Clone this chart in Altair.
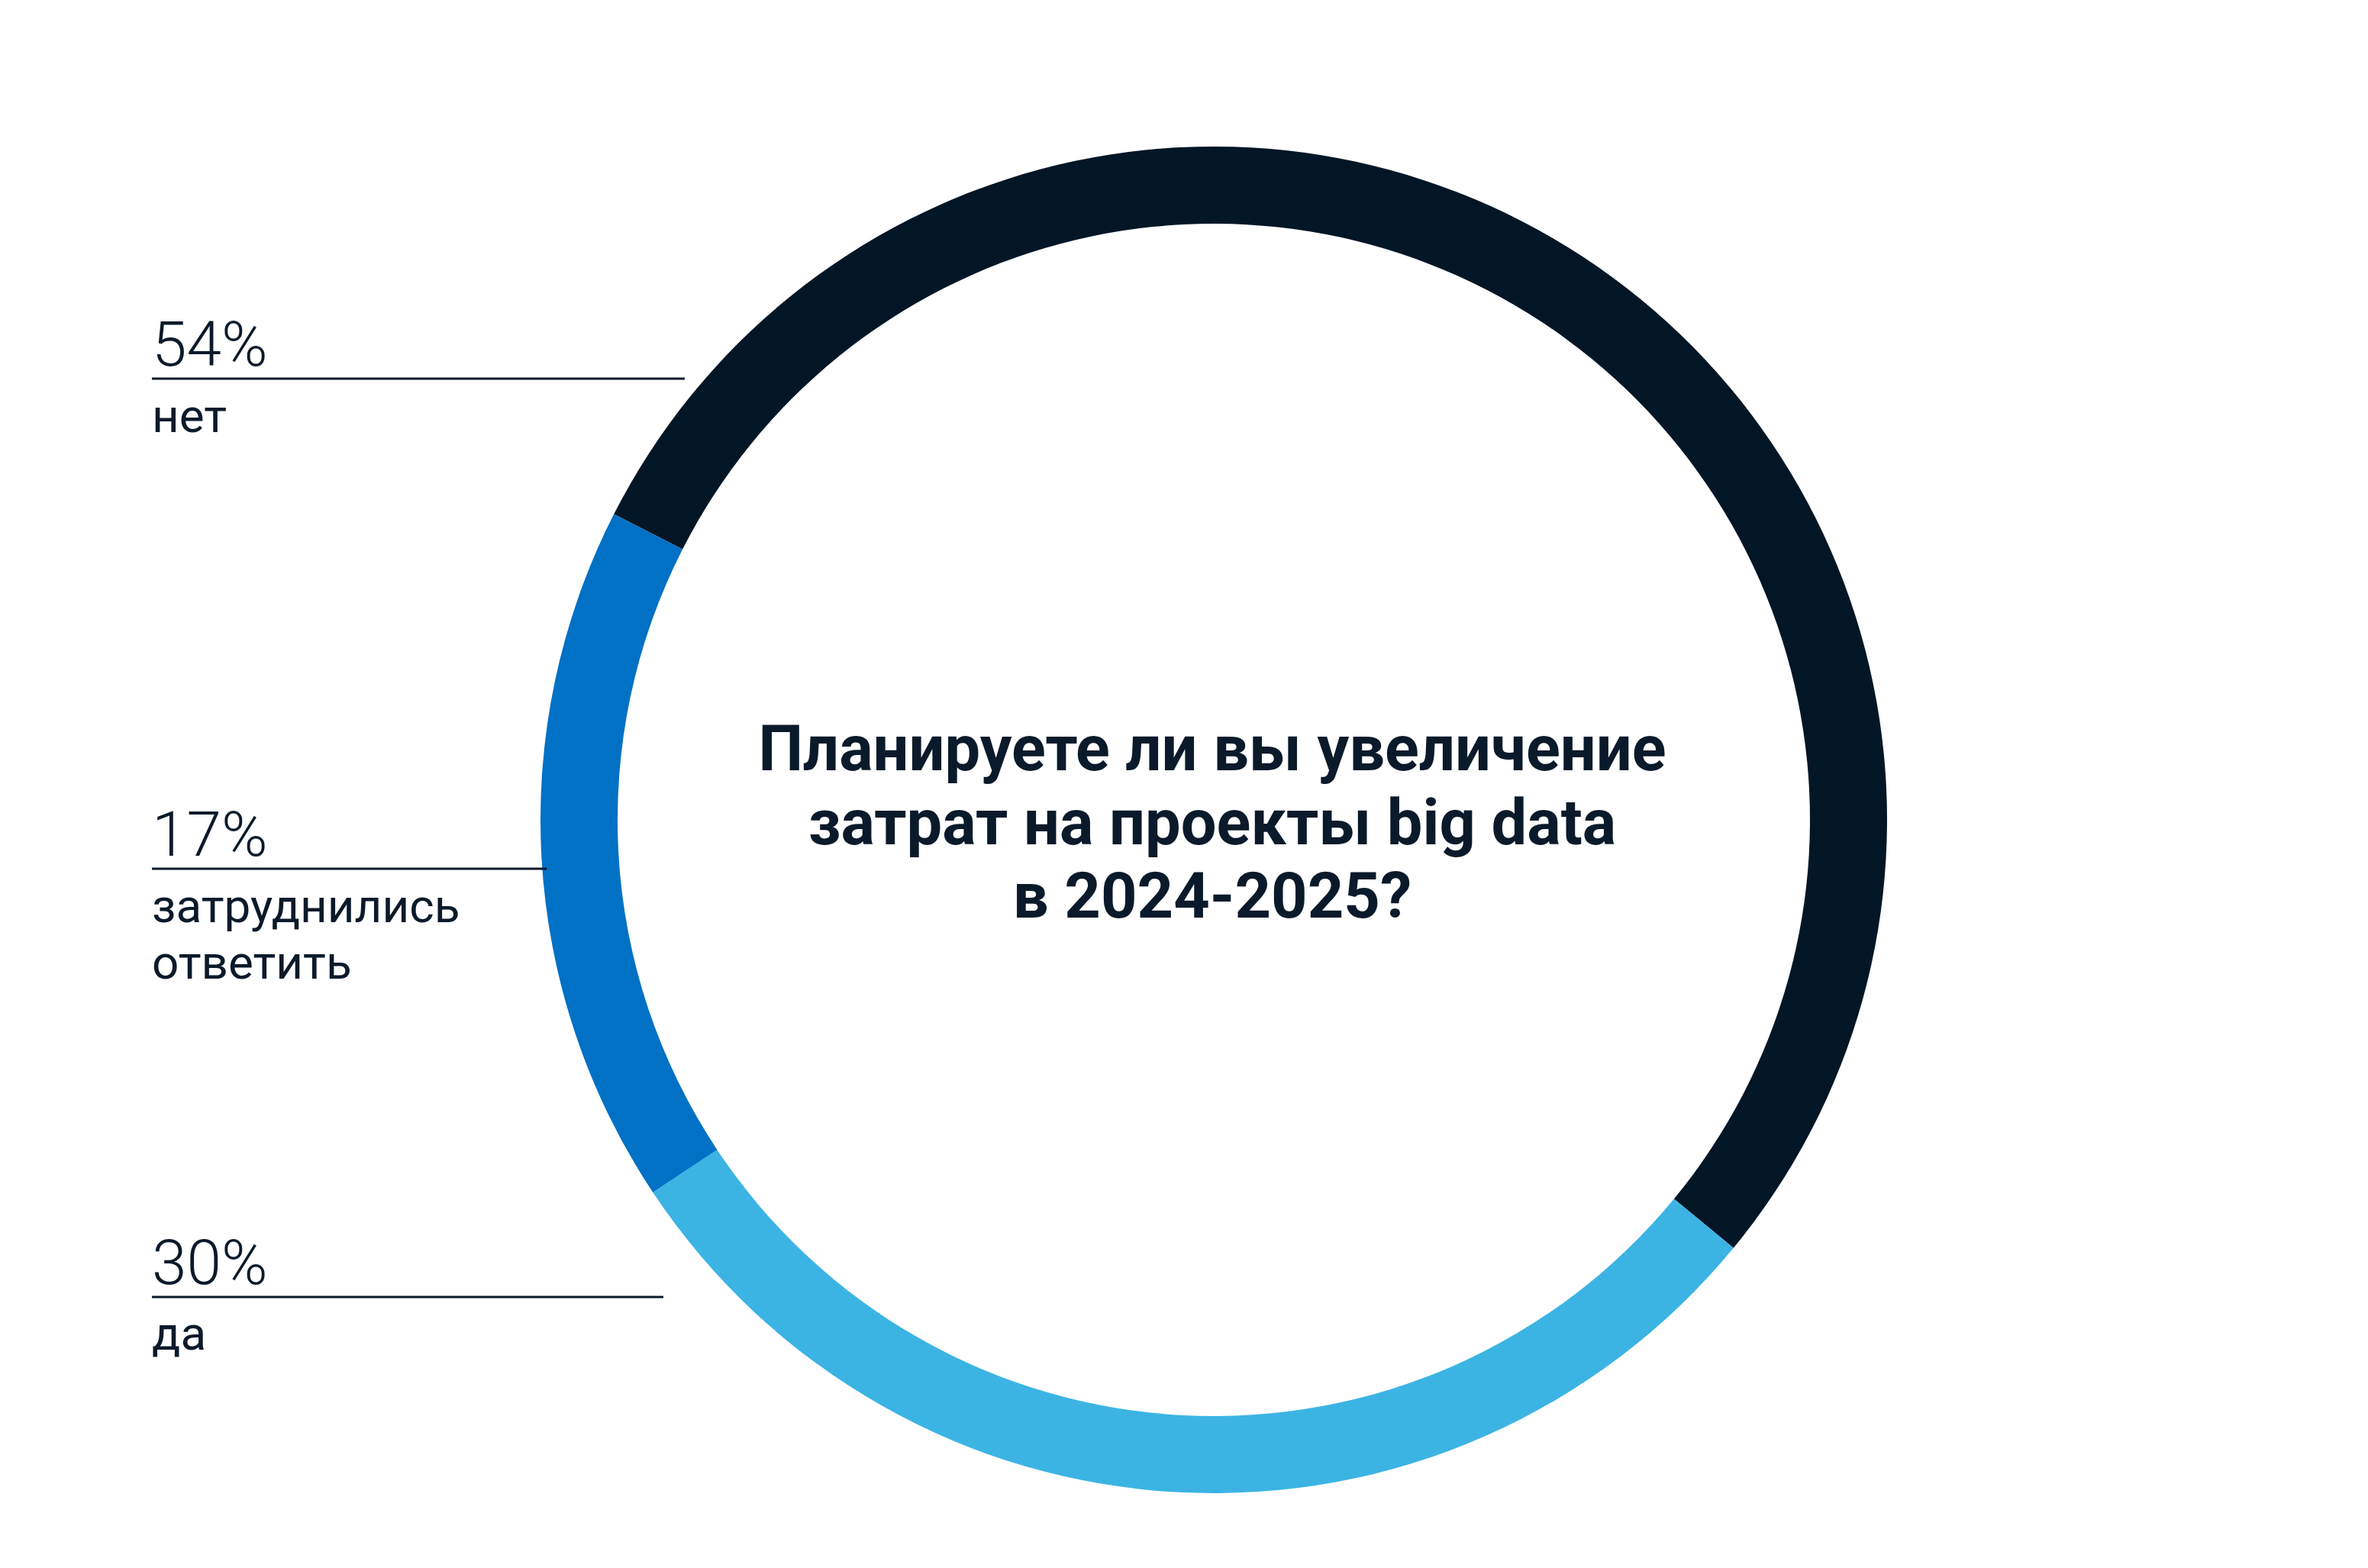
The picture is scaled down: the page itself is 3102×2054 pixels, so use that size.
import math
import altair as alt
import pandas as pd

# ---- data ----
answers = ["нет", "да", "затруднились ответить"]
shares = [54, 30, 17]
pct_labels = ["54%", "30%", "17%"]
cat_labels = ["нет", "да", "затруднились\nответить"]
colors = ["#021626", "#3bb4e4", "#0071c5"]
title_lines = ["Планируете ли вы увеличение", "затрат на проекты big data", "в 2024-2025?"]

# ---- layout (pixels) ----
W, H = 3086, 2038
CX, CY = 1582, 1066
R_OUT, R_IN = 882, 781
START = math.radians(297)
TEXT = "#0b1a2a"

label_x = [191, 191, 191]
rule_end = [889, 861, 708]
pct_y = [471, 1674, 1113]
rule_y = [488, 1691, 1130]
cat_y = [558, 1760, 1200]
title_y = [1001, 1098, 1194]
title_x = 1580

xs = alt.Scale(domain=[0, W], nice=False, zero=False)
ys = alt.Scale(domain=[0, H], nice=False, zero=False, reverse=True)

arc_df = pd.DataFrame({"answer": answers, "share": shares, "ord": [0, 1, 2]})
ring = alt.Chart(arc_df).mark_arc(radius=R_OUT, radius2=R_IN, stroke=None).encode(
    theta=alt.Theta("share:Q", stack=True,
                    scale=alt.Scale(range=[START, START + 2 * math.pi])),
    color=alt.Color("answer:N", scale=alt.Scale(domain=answers, range=colors), legend=None),
    order=alt.Order("ord:Q"),
    x=alt.value(CX),
    y=alt.value(CY),
)

lab_df = pd.DataFrame({
    "pct": pct_labels, "cat": cat_labels,
    "x": label_x, "x2": rule_end, "py": pct_y, "ry": rule_y, "cy": cat_y,
})

pct_text = alt.Chart(lab_df).mark_text(
    align="left", baseline="alphabetic", font="Roboto", fontWeight=300,
    fontSize=82, color=TEXT,
).encode(x=alt.X("x:Q", scale=xs, axis=None), y=alt.Y("py:Q", scale=ys, axis=None), text="pct:N")

rules = alt.Chart(lab_df).mark_rule(strokeWidth=3, color=TEXT).encode(
    x=alt.X("x:Q", scale=xs, axis=None), x2="x2:Q", y=alt.Y("ry:Q", scale=ys, axis=None)
)

cat_text = alt.Chart(lab_df).mark_text(
    align="left", baseline="alphabetic", font="Roboto", fontWeight=400,
    fontSize=62, color=TEXT, lineBreak="\n", lineHeight=74,
).encode(x=alt.X("x:Q", scale=xs, axis=None), y=alt.Y("cy:Q", scale=ys, axis=None), text="cat:N")

title_df = pd.DataFrame({"t": title_lines, "y": title_y, "x": [title_x] * 3})
title = alt.Chart(title_df).mark_text(
    align="center", baseline="alphabetic", font="Roboto", fontWeight="bold",
    fontSize=83, color=TEXT,
).encode(x=alt.X("x:Q", scale=xs, axis=None), y=alt.Y("y:Q", scale=ys, axis=None), text="t:N")

chart = alt.layer(ring, rules, pct_text, cat_text, title).properties(
    width=W, height=H, padding=0, autosize=alt.AutoSizeParams(type="none"),
    background="white",
).configure_view(stroke=None)

chart.save("out.html", embed_options={"renderer": "svg", "actions": False})
